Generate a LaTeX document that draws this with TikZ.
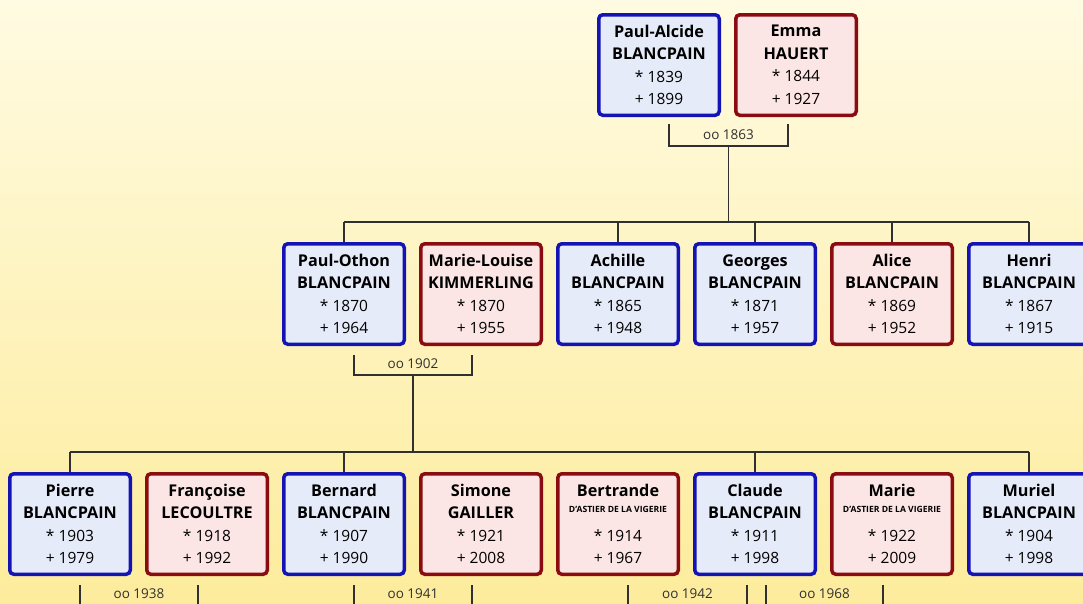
\documentclass[tikz,border=0pt]{standalone}
\usepackage{fontspec}
\setmainfont{Open Sans}
\usepackage{tikz}
\usepackage{xcolor}
\usetikzlibrary{positioning}
\definecolor{ManBorder}{HTML}{1414B4}
\definecolor{ManFill}{HTML}{E6EBF9}
\definecolor{WomanBorder}{HTML}{8A0C10}
\definecolor{WomanFill}{HTML}{FCE6E5}
\definecolor{BgTop}{HTML}{FFFBE2}
\definecolor{BgBottom}{HTML}{FDEC9C}
\definecolor{TreeGray}{HTML}{303030}

\tikzset{
  person/.style={rectangle, rounded corners=4pt, line width=3.5pt,
    minimum width=120.5pt, minimum height=100.5pt, inner sep=0pt,
    align=center, text=black, font=\fontsize{15.5}{22.5}\selectfont},
  man/.style={person, draw=ManBorder, fill=ManFill},
  woman/.style={person, draw=WomanBorder, fill=WomanFill},
  wed/.style={font=\fontsize{13.5}{16}\selectfont, text=TreeGray,
    inner xsep=3pt, inner ysep=6pt, anchor=south},
  tree/.style={TreeGray, line width=1.2pt}
}
\newcommand{\who}[4]{{\fontsize{16.2}{22.5}\selectfont\bfseries #1}\\{\fontsize{16.2}{22.5}\selectfont\bfseries #2}\\{*} #3\\+ #4}
\newcommand{\astier}{\raisebox{6pt}{\fontsize{8.6}{9}\selectfont\bfseries D'ASTIER DE LA VIGERIE}}

\begin{document}
\begin{tikzpicture}[x=1pt, y=-1pt]
  % Background
  \clip (0,0) rectangle (1083,603);
  \shade[top color=BgTop, bottom color=BgBottom] (0,0) rectangle (1083,603);

  % Parents
  \node[man] (paulalcide) at (659,65) {\who{Paul-Alcide}{BLANCPAIN}{1839}{1899}};
  \node[woman, right=13pt of paulalcide] (emma) {\who{Emma}{HAUERT}{1844}{1927}};

  % Children
  \node[man] (paulothon) at (344,294) {\who{Paul-Othon}{BLANCPAIN}{1870}{1964}};
  \node[woman, right=13pt of paulothon] (mlouise) {\who{Marie-Louise}{KIMMERLING}{1870}{1955}};
  \node[man, right=13pt of mlouise] (achille) {\who{Achille}{BLANCPAIN}{1865}{1948}};
  \node[man, right=13pt of achille] (georges) {\who{Georges}{BLANCPAIN}{1871}{1957}};
  \node[woman, right=13pt of georges] (alice) {\who{Alice}{BLANCPAIN}{1869}{1952}};
  \node[man, right=13pt of alice] (henri) {\who{Henri}{BLANCPAIN}{1867}{1915}};

  % Grandchildren and spouses
  \node[man] (pierre) at (70,524) {\who{Pierre}{BLANCPAIN}{1903}{1979}};
  \node[woman, right=13pt of pierre] (francoise) {\who{Françoise}{LECOULTRE}{1918}{1992}};
  \node[man, right=13pt of francoise] (bernard) {\who{Bernard}{BLANCPAIN}{1907}{1990}};
  \node[woman, right=13pt of bernard] (simone) {\who{Simone}{GAILLER}{1921}{2008}};
  \node[woman, right=13pt of simone] (bertrande) {\who{Bertrande}{\astier}{1914}{1967}};
  \node[man, right=13pt of bertrande] (claude) {\who{Claude}{BLANCPAIN}{1911}{1998}};
  \node[woman, right=13pt of claude] (marie) {\who{Marie}{\astier}{1922}{2009}};
  \node[man, right=13pt of marie] (muriel) {\who{Muriel}{BLANCPAIN}{1904}{1998}};

  % Marriages
  \draw[tree] ([xshift=10pt,yshift=-7pt]paulalcide.south) |- ([xshift=-8pt,yshift=-29pt]emma.south)
    node[pos=0.75, wed] (w1863) {oo 1863} -- ([xshift=-8pt,yshift=-7pt]emma.south);
  \draw[tree] ([xshift=10pt,yshift=-9pt]paulothon.south) |- ([xshift=-9pt,yshift=-29pt]mlouise.south)
    node[pos=0.75, wed] (w1902) {oo 1902} -- ([xshift=-9pt,yshift=-9pt]mlouise.south);
  \draw[tree] ([xshift=10pt,yshift=-9pt]pierre.south) |- ([xshift=-9pt,yshift=-29pt]francoise.south)
    node[pos=0.75, wed] (w1938) {oo 1938} -- ([xshift=-9pt,yshift=-9pt]francoise.south);
  \draw[tree] ([xshift=10pt,yshift=-9pt]bernard.south) |- ([xshift=-9pt,yshift=-29pt]simone.south)
    node[pos=0.75, wed] (w1941) {oo 1941} -- ([xshift=-9pt,yshift=-9pt]simone.south);
  \draw[tree] ([xshift=10pt,yshift=-9pt]bertrande.south) |- ([xshift=-8pt,yshift=-29pt]claude.south)
    node[pos=0.75, wed] (w1942) {oo 1942} -- ([xshift=-8pt,yshift=-9pt]claude.south);
  \draw[tree] ([xshift=11pt,yshift=-9pt]claude.south) |- ([xshift=-9pt,yshift=-29pt]marie.south)
    node[pos=0.75, wed] (w1968) {oo 1968} -- ([xshift=-9pt,yshift=-9pt]marie.south);

  % Descent lines
  \coordinate (bar1) at (0,222);
  \coordinate (bar2) at (0,452);
  \draw[tree] (w1863.south) -- (w1863.south |- bar1);
  \draw[tree] (paulothon.north |- bar1) -- (henri.north |- bar1);
  \foreach \c in {paulothon,achille,georges,alice,henri}
    {\draw[tree] (\c.north |- bar1) -- (\c.north);}
  \draw[tree] (w1902.south) -- (w1902.south |- bar2);
  \draw[tree] (pierre.north |- bar2) -- (muriel.north |- bar2);
  \foreach \c in {pierre,bernard,claude,muriel}
    {\draw[tree] (\c.north |- bar2) -- (\c.north);}
\end{tikzpicture}
\end{document}
